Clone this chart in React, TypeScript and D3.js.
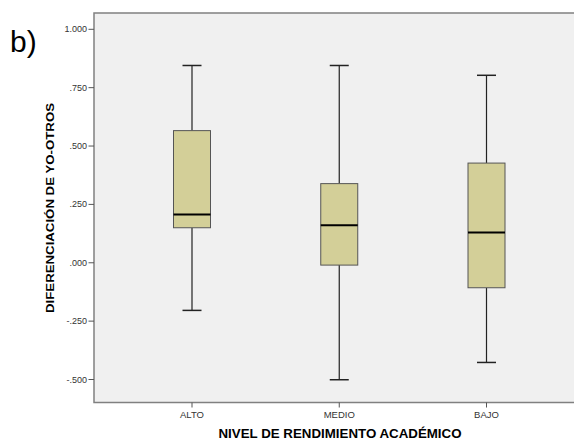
import * as d3 from "d3";
import React from "react";

const categories = ["ALTO", "MEDIO", "BAJO"];
const whiskerLow = [-0.204, -0.501, -0.427];
const q1 = [0.15, -0.01, -0.107];
const medians = [0.207, 0.161, 0.13];
const q3 = [0.566, 0.339, 0.427];
const whiskerHigh = [0.845, 0.845, 0.803];
const yTicks = [-0.5, -0.25, 0, 0.25, 0.5, 0.75, 1.0];

const width = 574;
const height = 441;
const frame = { left: 94, top: 13, right: 600, bottom: 402.5 };

// SPSS style: no leading zero, plain hyphen minus
const fmt = (v: number) => {
  const s = Math.abs(v).toFixed(3).replace(/^0\./, ".");
  return (v < 0 ? "-" : "") + s;
};

const App = () => {
  const y = d3.scaleLinear().domain([-0.5, 1.0]).range([379.5, 29.3]);
  const x = d3.scalePoint<string>().domain(categories).range([192, 486.5]);
  const boxW = 37;
  const capW = 19;

  return (
    <svg
      width={width}
      height={height}
      style={{ position: "absolute", left: 0, top: 0, fontFamily: "Arial, 'Liberation Sans', sans-serif" }}
    >
      <rect x={0} y={0} width={width} height={height} fill="#ffffff" />
      <rect
        x={frame.left}
        y={frame.top}
        width={frame.right - frame.left}
        height={frame.bottom - frame.top}
        fill="#f0f0f0"
        stroke="#808080"
        strokeWidth={1.5}
      />
      <text x={10} y={52} fontSize={30} fill="#000">b)</text>

      {yTicks.map((t) => (
        <g key={t} transform={`translate(0,${y(t)})`}>
          <line x1={88.5} x2={frame.left} stroke="#555" strokeWidth={1} />
          <text x={87} y={3} fontSize={9} textAnchor="end" fill="#333">{fmt(t)}</text>
        </g>
      ))}

      {categories.map((c) => (
        <g key={c} transform={`translate(${x(c)},0)`}>
          <line y1={frame.bottom} y2={frame.bottom + 5} stroke="#555" strokeWidth={1} />
          <text y={418} fontSize={9.5} textAnchor="middle" fill="#333">{c}</text>
        </g>
      ))}

      {categories.map((c, i) => {
        const cx = x(c) as number;
        return (
          <g key={"box" + c}>
            <line x1={cx} x2={cx} y1={y(whiskerHigh[i])} y2={y(q3[i])} stroke="#222" strokeWidth={1.2} />
            <line x1={cx} x2={cx} y1={y(q1[i])} y2={y(whiskerLow[i])} stroke="#222" strokeWidth={1.2} />
            <line x1={cx - capW / 2} x2={cx + capW / 2} y1={y(whiskerHigh[i])} y2={y(whiskerHigh[i])} stroke="#222" strokeWidth={1.5} />
            <line x1={cx - capW / 2} x2={cx + capW / 2} y1={y(whiskerLow[i])} y2={y(whiskerLow[i])} stroke="#222" strokeWidth={1.5} />
            <rect
              x={cx - boxW / 2}
              y={y(q3[i])}
              width={boxW}
              height={y(q1[i]) - y(q3[i])}
              fill="#d3cf98"
              stroke="#555"
              strokeWidth={1}
            />
            <line x1={cx - boxW / 2} x2={cx + boxW / 2} y1={y(medians[i])} y2={y(medians[i])} stroke="#000" strokeWidth={2} />
          </g>
        );
      })}

      <text
        transform={`translate(53.5,208) rotate(-90)`}
        fontSize={10.5}
        fontWeight="bold"
        textAnchor="middle"
        textLength={210}
        lengthAdjust="spacingAndGlyphs"
        fill="#000"
      >
        DIFERENCIACIÓN DE YO-OTROS
      </text>
      <text
        x={340}
        y={437.5}
        fontSize={12.5}
        fontWeight="bold"
        textAnchor="middle"
        textLength={243}
        lengthAdjust="spacingAndGlyphs"
        fill="#000"
      >
        NIVEL DE RENDIMIENTO ACADÉMICO
      </text>
    </svg>
  );
};

export default App;
